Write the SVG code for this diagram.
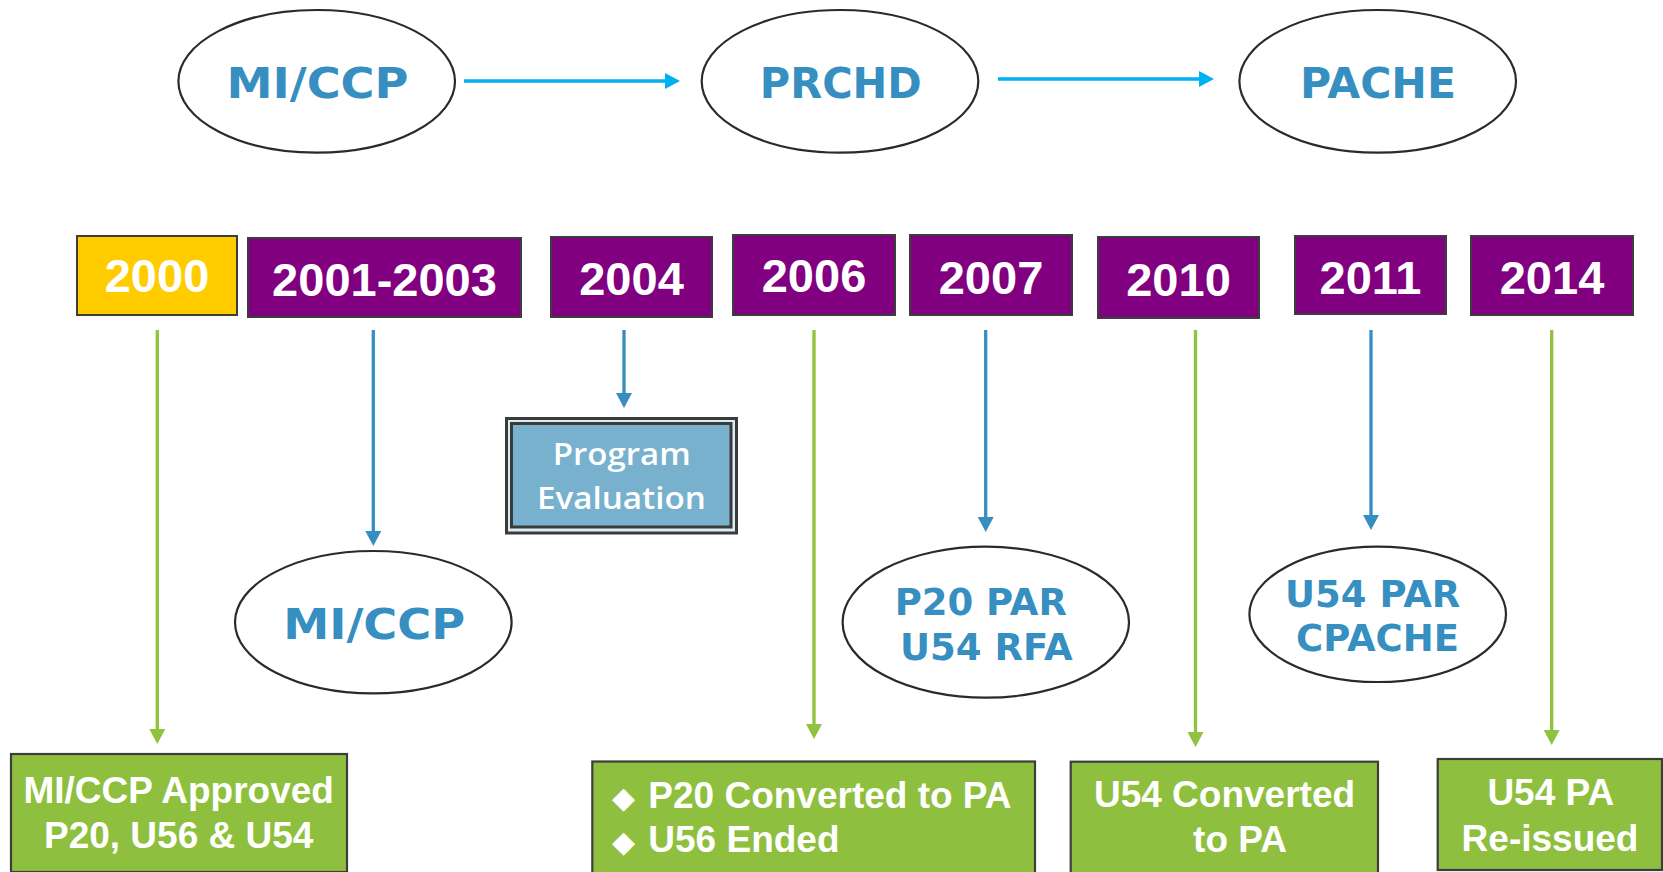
<svg xmlns="http://www.w3.org/2000/svg" width="1663" height="872" viewBox="0 0 1663 872">
<style>
.ell{fill:#fff;stroke:#2a2a2a;stroke-width:2.2}
.etxt{font-family:"DejaVu Sans",Verdana,sans-serif;font-weight:bold;fill:#368FC0;text-anchor:middle}
.yr{fill:#800080;stroke:#3d3d3d;stroke-width:2}
.yrY{fill:#FFCC00;stroke:#3d3d3d;stroke-width:2}
.ytxt{font-family:"Liberation Sans",Arial,sans-serif;font-weight:bold;font-size:47px;fill:#fff;text-anchor:middle}
.gb{fill:#8EBF3E;stroke:#3d3d3d;stroke-width:2.2}
.gtxt{font-family:"Liberation Sans",Arial,sans-serif;font-weight:bold;font-size:37px;fill:#fff}
.bul{font-family:"DejaVu Sans",sans-serif;font-size:30px;fill:#fff}
.cy{stroke:#00B0F0;stroke-width:3.3;fill:none}
.cb{stroke:#358DC0;stroke-width:3.3;fill:none}
.cg{stroke:#8EC23F;stroke-width:3.3;fill:none}
.pe{font-family:"Open Sans","Noto Sans",sans-serif;font-weight:600;font-size:31px;fill:#fff;text-anchor:middle}
</style>
<defs>
<marker id="ahCyan" markerUnits="userSpaceOnUse" markerWidth="15" markerHeight="16" viewBox="0 0 15 16" refX="1" refY="8" orient="auto"><path d="M0,0 L15,8 L0,16 z" fill="#00B0F0"/></marker>
<marker id="ahBlue" markerUnits="userSpaceOnUse" markerWidth="15" markerHeight="16" viewBox="0 0 15 16" refX="1" refY="8" orient="auto"><path d="M0,0 L15,8 L0,16 z" fill="#358DC0"/></marker>
<marker id="ahGreen" markerUnits="userSpaceOnUse" markerWidth="15" markerHeight="16" viewBox="0 0 15 16" refX="1" refY="8" orient="auto"><path d="M0,0 L15,8 L0,16 z" fill="#8EC23F"/></marker>
</defs>
<rect width="1663" height="872" fill="#fff"/>

<g id="connectors">
<line class="cy" x1="464" y1="81" x2="666" y2="81" marker-end="url(#ahCyan)"/>
<line class="cy" x1="998" y1="79" x2="1200" y2="79" marker-end="url(#ahCyan)"/>
<line class="cg" x1="157.3" y1="330" x2="157.3" y2="730" marker-end="url(#ahGreen)"/>
<line class="cb" x1="373.3" y1="330" x2="373.3" y2="532" marker-end="url(#ahBlue)"/>
<line class="cb" x1="624" y1="330" x2="624" y2="394" marker-end="url(#ahBlue)"/>
<line class="cg" x1="814" y1="330" x2="814" y2="725" marker-end="url(#ahGreen)"/>
<line class="cb" x1="985.7" y1="330" x2="985.7" y2="518" marker-end="url(#ahBlue)"/>
<line class="cg" x1="1195.5" y1="330" x2="1195.5" y2="733" marker-end="url(#ahGreen)"/>
<line class="cb" x1="1371" y1="330" x2="1371" y2="516" marker-end="url(#ahBlue)"/>
<line class="cg" x1="1551.7" y1="330" x2="1551.7" y2="731" marker-end="url(#ahGreen)"/>
</g>

<g id="top-micc">
<ellipse class="ell" cx="316.7" cy="81.3" rx="138.3" ry="71.3"/>
<text class="etxt" x="317.5" y="98.3" font-size="43" textLength="182" lengthAdjust="spacingAndGlyphs">MI/CCP</text>
</g>
<g id="top-prchd">
<ellipse class="ell" cx="840" cy="81.3" rx="138.3" ry="71.3"/>
<text class="etxt" x="840.8" y="98.3" font-size="43" textLength="162" lengthAdjust="spacingAndGlyphs">PRCHD</text>
</g>
<g id="top-pache">
<ellipse class="ell" cx="1377.7" cy="81.3" rx="138.3" ry="71.3"/>
<text class="etxt" x="1378" y="98.3" font-size="43" textLength="156" lengthAdjust="spacingAndGlyphs">PACHE</text>
</g>

<g id="y2000"><rect class="yrY" x="77" y="236" width="160" height="79"/><text class="ytxt" x="157" y="291.7">2000</text></g>
<g id="y2001"><rect class="yr" x="248" y="238" width="273" height="79"/><text class="ytxt" x="384.5" y="296">2001-2003</text></g>
<g id="y2004"><rect class="yr" x="551" y="237" width="161" height="80"/><text class="ytxt" x="631.5" y="295">2004</text></g>
<g id="y2006"><rect class="yr" x="733" y="235" width="162" height="80"/><text class="ytxt" x="814" y="291.7">2006</text></g>
<g id="y2007"><rect class="yr" x="910" y="235" width="162" height="80"/><text class="ytxt" x="991" y="294">2007</text></g>
<g id="y2010"><rect class="yr" x="1098" y="237" width="161" height="81"/><text class="ytxt" x="1178.5" y="296">2010</text></g>
<g id="y2011"><rect class="yr" x="1295" y="236" width="151" height="78"/><text class="ytxt" x="1370.5" y="294">2011</text></g>
<g id="y2014"><rect class="yr" x="1471" y="236" width="162" height="79"/><text class="ytxt" x="1552" y="294">2014</text></g>

<g id="program-evaluation">
<rect x="506.5" y="418.5" width="230" height="114.5" fill="#DDEBF2" stroke="#3b3b3b" stroke-width="3"/>
<rect x="511.5" y="423.5" width="219.5" height="103.5" fill="#77B1CD" stroke="#3b3b3b" stroke-width="3"/>
<text class="pe" x="621.7" y="465" textLength="138" lengthAdjust="spacingAndGlyphs">Program</text>
<text class="pe" x="621.4" y="509" textLength="169" lengthAdjust="spacingAndGlyphs">Evaluation</text>
</g>

<g id="mid-micc">
<ellipse class="ell" cx="373.3" cy="622.2" rx="138.3" ry="71.2"/>
<text class="etxt" x="374.2" y="639" font-size="43" textLength="182" lengthAdjust="spacingAndGlyphs">MI/CCP</text>
</g>
<g id="p20par">
<ellipse class="ell" cx="985.8" cy="622.2" rx="143.2" ry="75.5"/>
<text class="etxt" x="980.8" y="615" font-size="37">P20 PAR</text>
<text class="etxt" x="986.3" y="660" font-size="37">U54 RFA</text>
</g>
<g id="u54par">
<ellipse class="ell" cx="1377.7" cy="614.3" rx="128.3" ry="67.7"/>
<text class="etxt" x="1372.7" y="606.7" font-size="37">U54 PAR</text>
<text class="etxt" x="1377.5" y="651" font-size="37">CPACHE</text>
</g>

<g id="g2000">
<rect class="gb" x="11" y="754" width="336" height="118"/>
<text class="gtxt" x="178.7" y="803.3" text-anchor="middle">MI/CCP Approved</text>
<text class="gtxt" x="178.7" y="848.3" text-anchor="middle">P20, U56 &amp; U54</text>
</g>
<g id="g2006">
<rect class="gb" x="592.3" y="761.5" width="442.7" height="112"/>
<text class="bul" x="612" y="808">◆</text>
<text class="gtxt" x="648.3" y="808">P20 Converted to PA</text>
<text class="bul" x="612" y="852">◆</text>
<text class="gtxt" x="648.3" y="852">U56 Ended</text>
</g>
<g id="g2010">
<rect class="gb" x="1070.7" y="761.7" width="307.3" height="112"/>
<text class="gtxt" x="1224.5" y="806.7" text-anchor="middle">U54 Converted</text>
<text class="gtxt" x="1240" y="852.3" text-anchor="middle">to PA</text>
</g>
<g id="g2014">
<rect class="gb" x="1437.7" y="759" width="224.3" height="111"/>
<text class="gtxt" x="1550.8" y="805" text-anchor="middle">U54 PA</text>
<text class="gtxt" x="1550" y="850.7" text-anchor="middle">Re-issued</text>
</g>
</svg>
